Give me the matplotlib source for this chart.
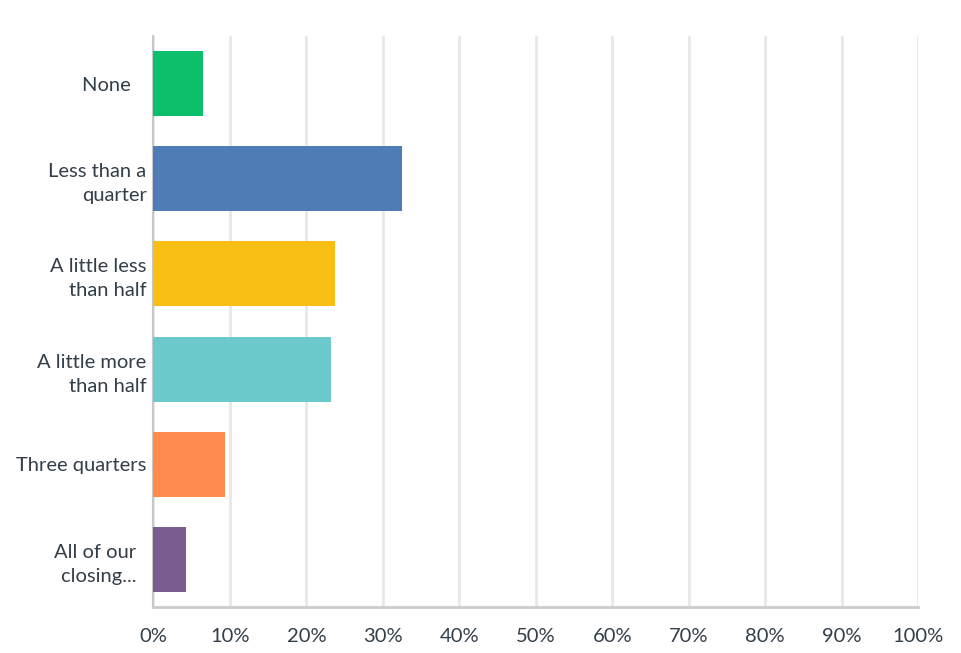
import matplotlib
matplotlib.use('Agg')
import matplotlib.pyplot as plt

plt.rcParams['font.family'] = ['Lato', 'DejaVu Sans']

categories = ['None   ', 'Less than a\nquarter', 'A little less\nthan half',
              'A little more\nthan half', 'Three quarters', 'All of our  \nclosing...  ']
values = [6.5, 32.5, 23.8, 23.2, 9.3, 4.2]
colors = ['#0bbf6b', '#4f7cb5', '#f9be14', '#6ccacc', '#ff8b4f', '#7b5c8f']
ticks = list(range(0, 101, 10))
tick_labels = ['%d%%' % t for t in ticks]

fig = plt.figure(figsize=(9.61, 6.53), dpi=100)
ax = fig.add_axes([0.1597, 0.0704, 0.7956, 0.8745])

pos = list(range(len(categories)))
ax.barh(pos, values, height=0.684, color=colors, zorder=3)
ax.set_ylim(len(categories) - 0.5, -0.5)
ax.set_xlim(0, 100)

ax.set_xticks(ticks)
ax.set_xticklabels(tick_labels)
ax.set_yticks(pos)
ax.set_yticklabels(categories, linespacing=1.5)
ax.tick_params(axis='both', length=0, labelsize=14.5, colors='#333e48')
ax.tick_params(axis='x', pad=15)
ax.tick_params(axis='y', pad=5)

ax.grid(axis='x', color='#e8e8e8', linewidth=2, zorder=0)
for s in ['top', 'right']:
    ax.spines[s].set_visible(False)
ax.spines['left'].set_color('#c8c8c8')
ax.spines['left'].set_linewidth(1.5)
ax.spines['bottom'].set_color('#cccccc')
ax.spines['bottom'].set_linewidth(2)

fig.savefig('out.png', dpi=100)
